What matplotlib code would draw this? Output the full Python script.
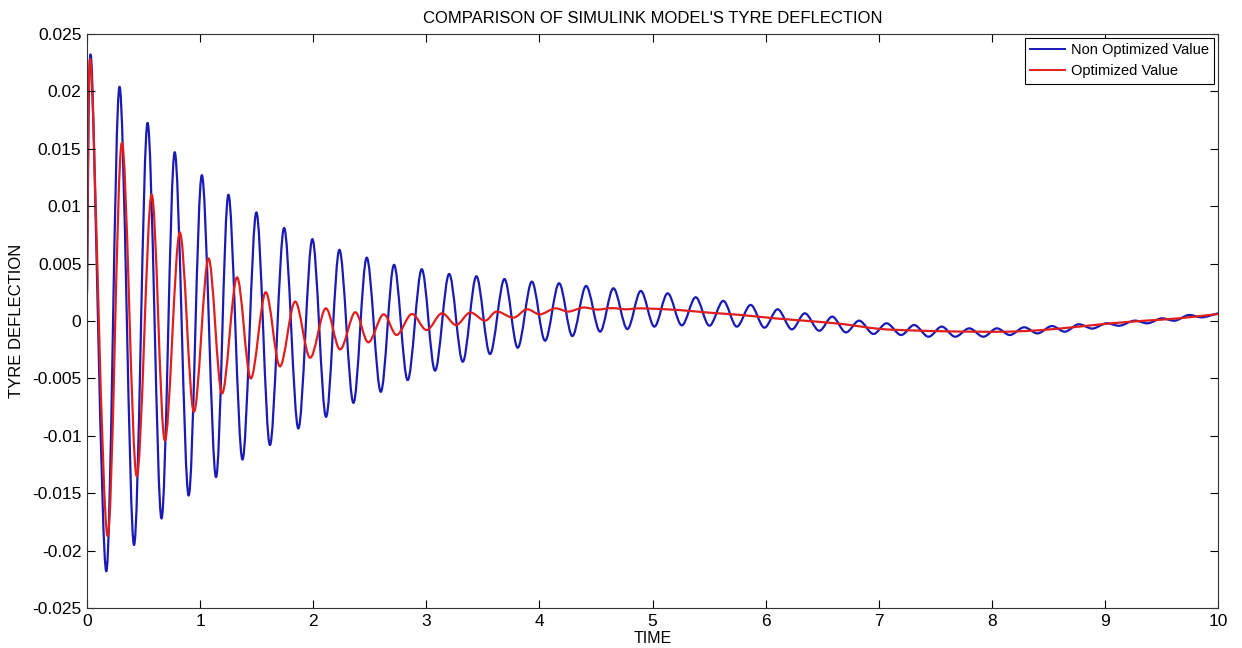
import matplotlib
matplotlib.use("Agg")
import matplotlib.pyplot as plt
from matplotlib.path import Path
from matplotlib.patches import PathPatch
from matplotlib.lines import Line2D
import numpy as np

plt.rcParams['font.family'] = ['Liberation Sans', 'DejaVu Sans']

# ---- data (extrema / key points) ----
blue_t = [0.0, 0.038, 0.17, 0.287, 0.415, 0.535, 0.658, 0.775, 0.898, 1.015,
          1.14, 1.25, 1.374, 1.497, 1.617, 1.742, 1.868, 1.992, 2.113, 2.231,
          2.355, 2.473, 2.597, 2.714, 2.835, 2.959, 3.077, 3.201, 3.322, 3.442,
          3.563, 3.69, 3.808, 3.932, 4.05, 4.173, 4.291, 4.412, 4.536, 4.654,
          4.777, 4.896, 5.016, 5.134, 5.258, 5.382, 5.502, 5.626, 5.744, 5.868,
          5.988, 6.107, 6.23, 6.348, 6.472, 6.59, 6.708, 6.828, 6.952, 7.07,
          7.197, 7.315, 7.439, 7.557, 7.675, 7.801, 7.925, 8.043, 8.161, 8.285,
          8.406, 8.53, 8.647, 8.765, 8.89, 9.01, 9.13, 9.26, 9.38, 9.50,
          9.62, 9.74, 9.86, 10.0]
blue_v = [0.0025, 0.0227, -0.0218, 0.0204, -0.0195, 0.01725, -0.0172, 0.0147, -0.0152, 0.0127,
          -0.0136, 0.0110, -0.01207, 0.00946, -0.0108, 0.0081, -0.00936, 0.00713, -0.00835, 0.0062,
          -0.00713, 0.00552, -0.00617, 0.00489, -0.00515, 0.00451, -0.00433, 0.0041, -0.00355, 0.0039,
          -0.00288, 0.00366, -0.00233, 0.00343, -0.00172, 0.00329, -0.00131, 0.00305, -0.00093, 0.00285,
          -0.0007, 0.00262, -0.00049, 0.00241, -0.00038, 0.00207, -0.00041, 0.00175, -0.00049, 0.0014,
          -0.00058, 0.00102, -0.00073, 0.00067, -0.00085, 0.00038, -0.00099, 0.00003, -0.00113, -0.0002,
          -0.00122, -0.00035, -0.00137, -0.00049, -0.00137, -0.00064, -0.00137, -0.00064, -0.00122, -0.00055,
          -0.00108, -0.00044, -0.00093, -0.00029, -0.00066, -0.0002, -0.00041, 0.00003, -0.0002, 0.00023,
          0.00003, 0.00052, 0.00032, 0.00067]

red_t = [0.0, 0.035, 0.18, 0.307, 0.438, 0.57, 0.687, 0.819, 0.944, 1.073,
         1.193, 1.325, 1.447, 1.579, 1.705, 1.839, 1.972, 2.11, 2.237, 2.37,
         2.487, 2.62, 2.738, 2.871, 3.003, 3.136, 3.263, 3.386, 3.519, 3.622,
         3.77, 3.888, 4.005, 4.138, 4.256, 4.388, 4.51, 4.64, 4.77, 4.9,
         5.226, 5.494, 5.789, 6.083, 6.378, 6.673, 7.0, 7.29, 7.6, 7.85,
         8.14, 8.44, 8.77, 9.06, 9.36, 9.65, 10.0]
red_v = [0.0025, 0.0224, -0.0187, 0.0155, -0.0135, 0.0110, -0.0104, 0.0077, -0.0079, 0.00545,
         -0.0063, 0.0038, -0.0050, 0.0025, -0.00395, 0.00169, -0.0032, 0.0011, -0.00247, 0.00076,
         -0.00186, 0.00058, -0.00122, 0.00061, -0.00079, 0.00067, -0.00035, 0.00073, 0.00003, 0.00082,
         0.00029, 0.00102, 0.00058, 0.0011, 0.00082, 0.00117, 0.0010, 0.00112, 0.00102, 0.0011,
         0.00096, 0.00073, 0.00052, 0.00023, 0.0, -0.00026, -0.00068, -0.00082, -0.0009, -0.00093,
         -0.00093, -0.00079, -0.00049, -0.0002, 0.00003, 0.00023, 0.00061]

series_labels = ["Non Optimized Value", "Optimized Value"]
title = "COMPARISON OF SIMULINK MODEL'S TYRE DEFLECTION"
xlabel = "TIME"
ylabel = "TYRE DEFLECTION"
xticks = [0, 1, 2, 3, 4, 5, 6, 7, 8, 9, 10]
yticks = [-0.025, -0.02, -0.015, -0.01, -0.005, 0, 0.005, 0.01, 0.015, 0.02, 0.025]
ytick_labels = ["-0.025", "-0.02", "-0.015", "-0.01", "-0.005", "0",
                "0.005", "0.01", "0.015", "0.02", "0.025"]

BLUE = "#1a1ab4"
RED = "#e01e1e"


def smooth_path(t, v):
    """Cubic Bezier path through the given points (Catmull-Rom tangents)."""
    P = np.column_stack([t, v]).astype(float)
    n = len(P)
    verts = [P[0]]
    codes = [Path.MOVETO]
    for i in range(n - 1):
        p0 = P[i - 1] if i > 0 else P[i]
        p1 = P[i]
        p2 = P[i + 1]
        p3 = P[i + 2] if i + 2 < n else P[i + 1]
        c1 = p1 + (p2 - p0) / 6.0
        c2 = p2 - (p3 - p1) / 6.0
        verts += [c1, c2, p2]
        codes += [Path.CURVE4] * 3
    return Path(verts, codes)


fig = plt.figure(figsize=(12.42, 6.48), dpi=100)
ax = fig.add_axes([87 / 1242, 1 - 608 / 648, (1218 - 87) / 1242, (608 - 34) / 648])

for t, v, c in [(blue_t, blue_v, BLUE), (red_t, red_v, RED)]:
    ax.add_patch(PathPatch(smooth_path(t, v), fill=False, edgecolor=c,
                           linewidth=1.6, capstyle='round', joinstyle='round'))

ax.set_xlim(0, 10)
ax.set_ylim(-0.025, 0.025)
ax.set_xticks(xticks)
ax.set_xticklabels([str(x) for x in xticks])
ax.set_yticks(yticks)
ax.set_yticklabels(ytick_labels)
ax.tick_params(direction='in', top=True, right=True, length=6, width=0.8,
               labelsize=12.5, pad=4, colors='black')
for s in ax.spines.values():
    s.set_linewidth(0.8)
    s.set_color('#333333')

ax.set_title(title, fontsize=12, pad=8)
ax.set_xlabel(xlabel, fontsize=11.5, labelpad=2)
ax.set_ylabel(ylabel, fontsize=12, labelpad=6)

handles = [Line2D([], [], color=BLUE, linewidth=1.4),
           Line2D([], [], color=RED, linewidth=1.4)]
leg = ax.legend(handles, series_labels, loc='upper right', fontsize=10.5,
                fancybox=False, framealpha=1, edgecolor='black',
                borderaxespad=0.25, handlelength=2.4, handletextpad=0.35,
                borderpad=0.4, labelspacing=0.45)
leg.get_frame().set_linewidth(0.8)

fig.savefig("out.png", dpi=100)
